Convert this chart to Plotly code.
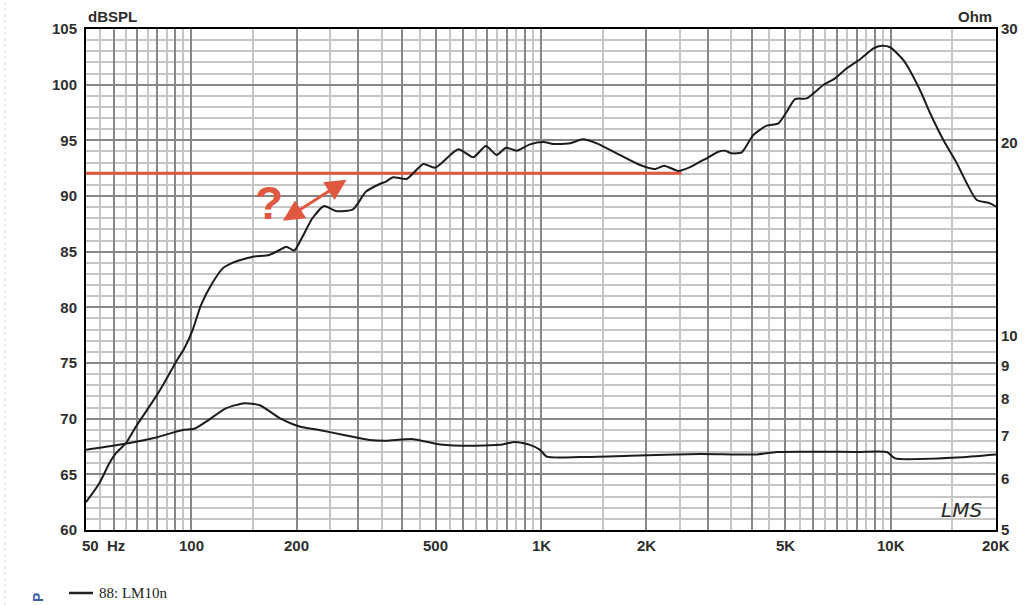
import numpy as np
import plotly.graph_objects as go

# ---------------- data ----------------
SPL_FREQ = [50, 54.6, 58.3, 60.9, 65.0, 69.5, 79.3, 84.7, 90.4, 95.5, 101, 106.6, 115, 123, 131,
            150, 167, 179, 187, 197, 208, 222, 240, 259, 290, 316, 346, 360, 378, 413, 461, 498,
            580, 640, 696, 747, 794, 852, 930, 1016, 1085, 1211, 1316, 1443, 1646, 1920, 2119,
            2249, 2470, 2668, 2850, 2978, 3214, 3360, 3511, 3750, 4047, 4422, 4772, 5043, 5327,
            5754, 6416, 6933, 7487, 8176, 8922, 9428, 9957, 10872, 12133, 12962, 14142, 15451,
            16497, 17620, 19236, 20000]
SPL_DB = [62.5, 64.2, 66.0, 66.9, 67.8, 69.3, 72.0, 73.5, 75.1, 76.3, 78.0, 80.2, 82.2, 83.5, 84.0,
          84.55, 84.7, 85.15, 85.45, 85.1, 86.35, 88.0, 89.1, 88.65, 88.8, 90.4, 91.08, 91.3, 91.68,
          91.53, 92.87, 92.54, 94.2, 93.48, 94.49, 93.68, 94.34, 94.07, 94.64, 94.85, 94.67, 94.73,
          95.09, 94.73, 93.83, 92.78, 92.42, 92.72, 92.25, 92.6, 93.08, 93.39, 93.98, 94.07, 93.83,
          93.92, 95.48, 96.32, 96.53, 97.57, 98.71, 98.77, 99.97, 100.57, 101.47, 102.28, 103.27,
          103.5, 103.36, 102.2, 99.5, 97.43, 95.03, 92.94, 91.14, 89.64, 89.34, 89.04]

Z_FREQ = [50, 62.2, 77.6, 94.5, 102, 110, 126, 142, 157, 179, 204, 232, 271, 323, 360, 431, 515,
          640, 764, 843, 930, 994, 1039, 1293, 1797, 2850, 4140, 4722, 7997, 9745, 10290, 15451, 20000]
Z_OHM = [6.66, 6.78, 6.94, 7.15, 7.18, 7.36, 7.73, 7.87, 7.81, 7.46, 7.24, 7.15, 7.03, 6.90, 6.88,
         6.92, 6.79, 6.76, 6.78, 6.85, 6.78, 6.66, 6.50, 6.49, 6.52, 6.56, 6.55, 6.61, 6.61, 6.61,
         6.46, 6.48, 6.55]

REF_FREQ = [50, 2520]
REF_DB = [92.05, 92.05]

X_LABEL_VALS = [50, 100, 200, 500, 1000, 2000, 5000, 10000, 20000]
X_LABEL_TEXT = ["50  Hz", "100", "200", "500", "1K", "2K", "5K", "10K", "20K"]
X_MAJOR_GRID = [60, 70, 80, 90, 100, 200, 300, 400, 500, 600, 700, 800, 900, 1000, 2000, 3000,
                4000, 5000, 6000, 7000, 8000, 9000, 10000]
X_MINOR_GRID = [55, 65, 75, 85, 95, 150, 250, 350, 450, 550, 650, 750, 850, 950, 1500, 2500,
                3500, 4500, 5500, 6500, 7500, 8500, 9500, 15000]
Y_TICKS = [60, 65, 70, 75, 80, 85, 90, 95, 100, 105]
Z_TICKS = [5, 6, 7, 8, 9, 10, 20, 30]
LEGEND_NAME = "88: LM10n"

ARROW_A = (181, 87.7)
ARROW_B = (278, 91.45)
QMARK = (167, 89.4)
LOGO = (15886, 61.8)

RED = "#e0583f"
DARK_GRID = "#878787"
LIGHT_GRID = "#c6c6c6"
TXT = "#2e2e2e"
FONT = "Liberation Sans, Arial, sans-serif"

fig = go.Figure()

fig.add_trace(go.Scatter(x=Z_FREQ, y=Z_OHM, yaxis="y2", mode="lines",
                         line=dict(color="#1c1c1c", width=2, shape="spline", smoothing=0.6),
                         showlegend=False, hoverinfo="skip"))
fig.add_trace(go.Scatter(x=REF_FREQ, y=REF_DB, mode="lines",
                         line=dict(color=RED, width=3), showlegend=False, hoverinfo="skip"))
fig.add_trace(go.Scatter(x=SPL_FREQ, y=SPL_DB, mode="lines", name=LEGEND_NAME,
                         line=dict(color="#1c1c1c", width=2, shape="spline", smoothing=0.6),
                         showlegend=False))

fig.update_layout(
    width=1024, height=605,
    margin=dict(l=86, r=28, t=29, b=75),
    paper_bgcolor="white", plot_bgcolor="white",
    font=dict(family=FONT, color=TXT),
    xaxis=dict(type="log", range=[np.log10(50), np.log10(20000)],
               tickmode="array", tickvals=X_MAJOR_GRID, showticklabels=False, ticks="",
               showgrid=True, gridcolor=DARK_GRID, gridwidth=1.7,
               minor=dict(tickmode="array", tickvals=X_MINOR_GRID, showgrid=True,
                          gridcolor=LIGHT_GRID, gridwidth=1.7, ticks=""),
               showline=True, linecolor="black", linewidth=2, mirror=True, zeroline=False),
    yaxis=dict(range=[60, 105], tickmode="array", tickvals=Y_TICKS, ticks="",
               tickfont=dict(size=15, weight="bold", color=TXT, family=FONT),
               showgrid=True, gridcolor=DARK_GRID, gridwidth=1.7,
               minor=dict(dtick=1, showgrid=True, gridcolor=LIGHT_GRID, gridwidth=1.7, ticks=""),
               showline=True, linecolor="black", linewidth=2, mirror=True, zeroline=False,
               ticklabelstandoff=4, automargin=False),
    yaxis2=dict(type="log", range=[np.log10(5), np.log10(30)], overlaying="y", side="right",
                tickmode="array", tickvals=Z_TICKS, ticktext=[str(v) for v in Z_TICKS], ticks="",
                tickfont=dict(size=15, weight="bold", color=TXT, family=FONT),
                showgrid=False, zeroline=False, showline=False, ticklabelstandoff=4,
                automargin=False),
    showlegend=False,
)

ann = []
for v, t in zip(X_LABEL_VALS, X_LABEL_TEXT):
    if v == 50:
        ann.append(dict(x=np.log10(v), y=0, xref="x", yref="paper", text=t, showarrow=False,
                        xanchor="left", yanchor="top", xshift=-6, yshift=-5,
                        font=dict(size=15, weight="bold", color=TXT, family=FONT)))
    else:
        ann.append(dict(x=np.log10(v), y=0, xref="x", yref="paper", text=t, showarrow=False,
                        xanchor="center", yanchor="top", yshift=-5,
                        font=dict(size=15, weight="bold", color=TXT, family=FONT)))

ann.append(dict(x=0, y=1, xref="paper", yref="paper", text="dBSPL", showarrow=False,
                xanchor="left", yanchor="bottom", yshift=2,
                font=dict(size=15, weight="bold", color=TXT, family=FONT)))
ann.append(dict(x=1, y=1, xref="paper", yref="paper", text="Ohm", showarrow=False,
                xanchor="right", yanchor="bottom", xshift=-2, yshift=2,
                font=dict(size=15, weight="bold", color=TXT, family=FONT)))

# red double arrow
ann.append(dict(x=np.log10(ARROW_B[0]), y=ARROW_B[1], ax=np.log10(ARROW_A[0]), ay=ARROW_A[1],
                xref="x", yref="y", axref="x", ayref="y", text="", showarrow=True,
                arrowhead=2, startarrowhead=2, arrowside="end+start", arrowsize=1.4,
                startarrowsize=1.4, arrowwidth=3, arrowcolor=RED))
ann.append(dict(x=np.log10(QMARK[0]), y=QMARK[1], xref="x", yref="y", text="?", showarrow=False,
                font=dict(size=46, weight="bold", color=RED, family=FONT)))
ann.append(dict(x=np.log10(LOGO[0]), y=LOGO[1], xref="x", yref="y", text="<i>LMS</i>",
                showarrow=False, font=dict(size=20, color="#2a2a2a", family="DejaVu Sans")))

# legend
ann.append(dict(x=(97 - 86) / 910, y=(530 - 593) / 501, xref="paper", yref="paper",
                text=LEGEND_NAME, showarrow=False, xanchor="left", yanchor="middle",
                font=dict(size=15, color="#222", family="Liberation Serif, Times New Roman, serif")))
ann.append(dict(x=(38 - 86) / 910, y=(530 - 598) / 501, xref="paper", yref="paper",
                text="<b>P</b>", textangle=-90, showarrow=False, xanchor="center", yanchor="middle",
                font=dict(size=14, color="#3b5fa8", family=FONT)))
fig.update_layout(annotations=ann)

fig.add_shape(type="line", xref="paper", yref="paper",
              x0=(69 - 86) / 910, x1=(93 - 86) / 910, y0=(530 - 593) / 501, y1=(530 - 593) / 501,
              line=dict(color="#222", width=2.5))
fig.add_shape(type="line", xref="paper", yref="paper",
              x0=(5 - 86) / 910, x1=(5 - 86) / 910, y0=-75 / 501, y1=1 + 29 / 501,
              line=dict(color="#d8d8d8", width=1, dash="dot"))

fig.write_html("out.html", config={"displayModeBar": False})

# remove the browser's default page margin so the figure fills the window exactly
with open("out.html", "r", encoding="utf-8") as fh:
    html = fh.read()
html = html.replace("<head>", "<head><style>html,body{margin:0;padding:0;overflow:hidden;}</style>", 1)
with open("out.html", "w", encoding="utf-8") as fh:
    fh.write(html)
